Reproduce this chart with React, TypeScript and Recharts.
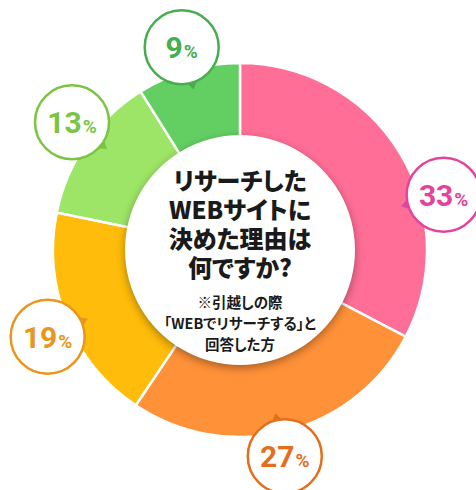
import React from 'react';
import { PieChart, Pie, Cell } from 'recharts';

// survey result, clockwise from 12 o'clock
const values = [33, 27, 19, 13, 9];
const sliceColors = ['#FF6E96', '#FF9138', '#FFBC0A', '#9DE566', '#63CF63'];
const calloutColors = ['#E2449C', '#E36E1E', '#E8961C', '#7CC444', '#46AE50'];

const titleLines = ['リサーチした', 'WEBサイトに', '決めた理由は', '何ですか?'];
const noteLines = ['※引越しの際', '「WEBでリサーチする」と', '回答した方'];

const CX = 240;
const CY = 250;
const RADIAN = Math.PI / 180;
const CALLOUT_DIST = 211;
const CALLOUT_R = 37;
// clockwise nudges (deg) so the bubbles sit where the original put them
const CALLOUT_SHIFT = [16, 2, -2, 2.5, 0];

const sliceData = values.map((v, i) => ({ name: `s${i}`, value: v }));
const centerData = [{ name: 'center', value: 1 }];

const renderCallout = (props: any) => {
  const { midAngle, index, value } = props;
  const angle = (midAngle - CALLOUT_SHIFT[index]) * RADIAN;
  const x = CX + CALLOUT_DIST * Math.cos(angle);
  const y = CY - CALLOUT_DIST * Math.sin(angle);
  const color = calloutColors[index];

  // little pointer on the bubble edge facing the donut centre
  const dx = CX - x;
  const dy = CY - y;
  const len = Math.sqrt(dx * dx + dy * dy);
  const ux = dx / len;
  const uy = dy / len;
  const px = -uy;
  const py = ux;
  const tipX = x + ux * (CALLOUT_R + 7);
  const tipY = y + uy * (CALLOUT_R + 7);
  const bX = x + ux * (CALLOUT_R - 2);
  const bY = y + uy * (CALLOUT_R - 2);
  const pts = `${tipX},${tipY} ${bX + px * 6},${bY + py * 6} ${bX - px * 6},${bY - py * 6}`;

  return (
    <g key={`callout-${index}`}>
      <polygon points={pts} fill={color} />
      <circle cx={x} cy={y} r={CALLOUT_R} fill="#fff" stroke={color} strokeWidth={2.5} />
      <text
        x={x}
        y={y + 11}
        textAnchor="middle"
        fill={color}
        fontFamily="Roboto, 'Noto Sans', sans-serif"
        fontWeight={700}
      >
        <tspan fontSize={30}>{value}</tspan>
        <tspan fontSize={19} dx={1}>%</tspan>
      </text>
    </g>
  );
};

const renderCenter = () => (
  <g
    key="center-text"
    fontFamily="'Noto Sans CJK JP', 'Noto Sans', sans-serif"
    fill="#1a1a1a"
    textAnchor="middle"
    style={{ fontFeatureSettings: '"palt"' }}
  >
    <text x={CX} y={CY - 60} fontSize={24} fontWeight={900}>
      {titleLines.map((t, i) => (
        <tspan key={t} x={CX} dy={i === 0 ? 0 : 29}>
          {t}
        </tspan>
      ))}
    </text>
    <text x={CX} y={CY + 58} fontSize={14.5} fontWeight={700}>
      {noteLines.map((t, i) => (
        <tspan key={t} x={CX} dy={i === 0 ? 0 : 21}>
          {t}
        </tspan>
      ))}
    </text>
  </g>
);

export default function App() {
  return (
    <div style={{ position: 'absolute', left: 0, top: 0, width: 476, height: 490, background: '#fff' }}>
      <PieChart width={476} height={490} margin={{ top: 0, right: 0, bottom: 0, left: 0 }}>
        <Pie
          data={sliceData}
          dataKey="value"
          cx={CX}
          cy={CY}
          innerRadius={110}
          outerRadius={187}
          startAngle={90}
          endAngle={-270}
          stroke="#fff"
          strokeWidth={2.5}
          label={renderCallout}
          labelLine={false}
          isAnimationActive={false}
        >
          {sliceData.map((d, i) => (
            <Cell key={d.name} fill={sliceColors[i]} />
          ))}
        </Pie>
        <Pie
          data={centerData}
          dataKey="value"
          cx={CX}
          cy={CY}
          innerRadius={0}
          outerRadius={115}
          startAngle={90}
          endAngle={-270}
          stroke="none"
          label={renderCenter}
          labelLine={false}
          isAnimationActive={false}
        >
          <Cell fill="#fff" style={{ filter: 'drop-shadow(0px 3px 4px rgba(0,0,0,0.35))' }} />
        </Pie>
      </PieChart>
    </div>
  );
}
